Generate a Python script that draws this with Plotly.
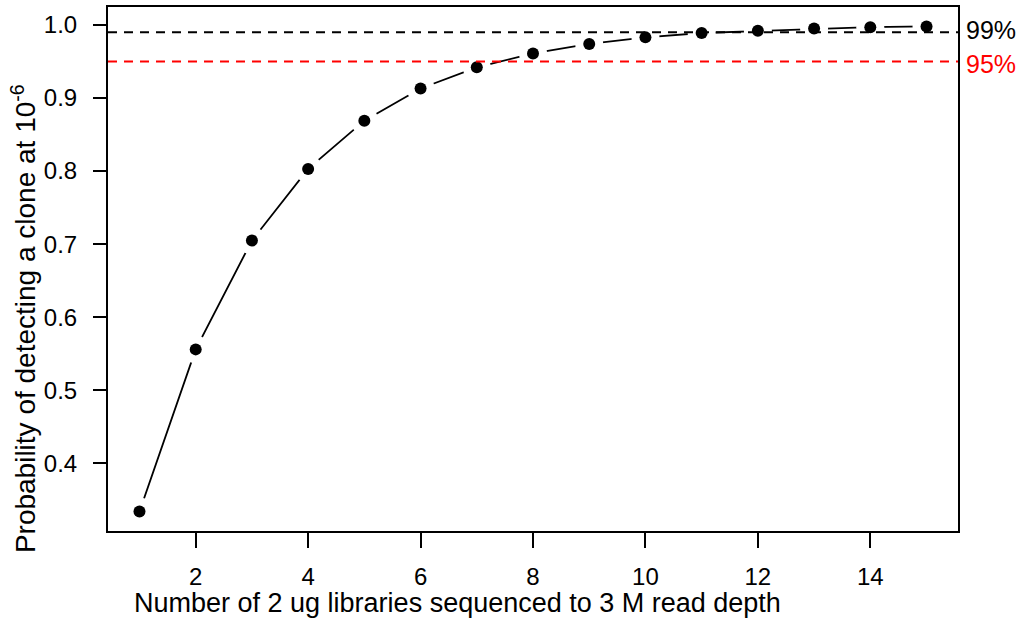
import plotly.graph_objects as go

# Number of libraries sequenced and detection probability at each
libraries = list(range(1, 16))
prob_detect = [0.334, 0.556, 0.705, 0.803, 0.869, 0.913, 0.942, 0.961,
               0.974, 0.983, 0.989, 0.992, 0.995, 0.997, 0.998]

# Reference thresholds drawn as horizontal dashed lines
thresholds = [0.99, 0.95]
threshold_labels = ["99%", "95%"]
threshold_colors = ["#000000", "#FF0000"]

x_ticks = [2, 4, 6, 8, 10, 12, 14]
y_ticks = [0.4, 0.5, 0.6, 0.7, 0.8, 0.9, 1.0]

x_title = "Number of 2 ug libraries sequenced to 3 M read depth"
y_title = "Probability of detecting a clone at 10<sup>-6</sup>"

FONT = "Liberation Sans, Arial, Helvetica, sans-serif"


def padded(vals, frac=0.04):
    lo, hi = min(vals), max(vals)
    span = hi - lo
    return [lo - frac * span, hi + frac * span]


fig = go.Figure()

# connecting line ("both" style: segments broken around each point)
fig.add_trace(go.Scatter(
    x=libraries, y=prob_detect, mode="lines",
    line=dict(color="black", width=1.8), hoverinfo="skip", showlegend=False))
fig.add_trace(go.Scatter(
    x=libraries, y=prob_detect, mode="markers",
    marker=dict(color="white", size=28, line=dict(width=0)),
    hoverinfo="skip", showlegend=False))
fig.add_trace(go.Scatter(
    x=libraries, y=prob_detect, mode="markers",
    marker=dict(color="black", size=12, line=dict(width=0)),
    showlegend=False))

for yv, lab, col, ys in zip(thresholds, threshold_labels, threshold_colors, [2, -3]):
    fig.add_shape(type="line", xref="paper", x0=0, x1=1, yref="y", y0=yv, y1=yv,
                  line=dict(color=col, width=2, dash="9px,7px"), layer="above")
    fig.add_annotation(text=lab, xref="paper", x=1, xanchor="left", xshift=6,
                       yref="y", y=yv, yanchor="middle", yshift=ys,
                       showarrow=False, font=dict(family=FONT, size=25, color=col))

fig.add_annotation(text=x_title, xref="paper", x=0.411, xanchor="center",
                   yref="paper", y=-0.138, yanchor="middle", showarrow=False,
                   font=dict(family=FONT, size=27, color="black"))
fig.add_annotation(text=y_title, xref="paper", x=-0.099, xanchor="center",
                   yref="paper", y=0.406, yanchor="middle", textangle=-90,
                   showarrow=False, font=dict(family=FONT, size=28, color="black"))

axis_common = dict(showline=True, mirror=True, linecolor="black", linewidth=2,
                   ticks="outside", tickwidth=2, tickcolor="black",
                   showgrid=False, zeroline=False,
                   tickfont=dict(family=FONT, size=24, color="black"))

fig.update_xaxes(range=padded(libraries), tickvals=x_ticks, ticklen=15,
                 ticklabelstandoff=8, **axis_common)
fig.update_yaxes(range=padded(prob_detect), tickvals=y_ticks, ticklen=13,
                 ticklabelstandoff=11, tickformat=".1f", **axis_common)

fig.update_layout(
    width=1034, height=620,
    margin=dict(l=108, r=76, t=7, b=89, autoexpand=False),
    paper_bgcolor="white", plot_bgcolor="white",
    font=dict(family=FONT, color="black"),
)

fig.write_html("out.html")
